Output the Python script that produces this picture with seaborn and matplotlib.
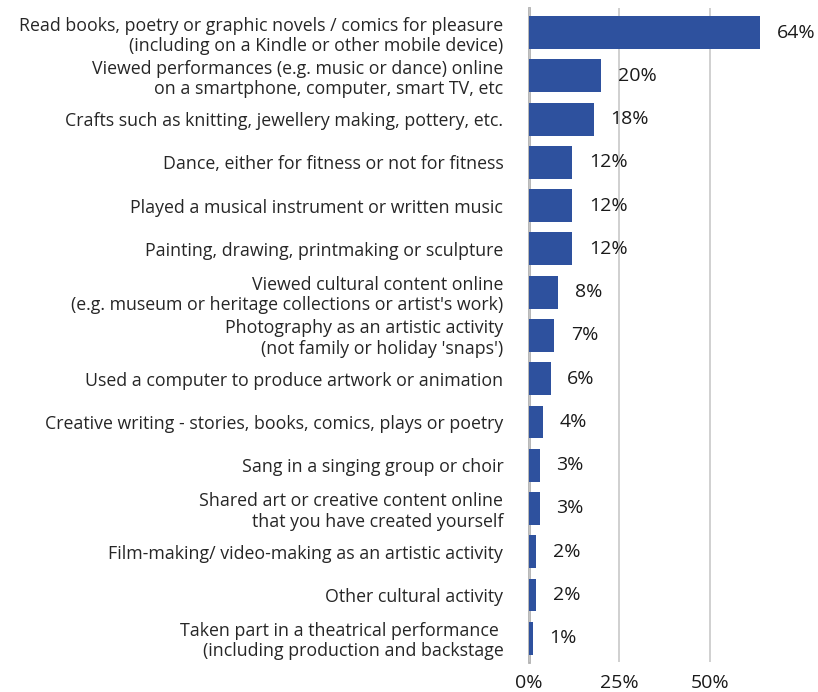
import matplotlib
matplotlib.use("Agg")
import matplotlib.pyplot as plt
import seaborn as sns
import pandas as pd

activities = [
    "Read books, poetry or graphic novels / comics for pleasure\n(including on a Kindle or other mobile device)",
    "Viewed performances (e.g. music or dance) online\non a smartphone, computer, smart TV, etc",
    "Crafts such as knitting, jewellery making, pottery, etc.",
    "Dance, either for fitness or not for fitness",
    "Played a musical instrument or written music",
    "Painting, drawing, printmaking or sculpture",
    "Viewed cultural content online\n(e.g. museum or heritage collections or artist's work)",
    "Photography as an artistic activity\n(not family or holiday 'snaps')",
    "Used a computer to produce artwork or animation",
    "Creative writing - stories, books, comics, plays or poetry",
    "Sang in a singing group or choir",
    "Shared art or creative content online\nthat you have created yourself",
    "Film-making/ video-making as an artistic activity",
    "Other cultural activity",
    "Taken part in a theatrical performance \n(including production and backstage",
]
shares = [64, 20, 18, 12, 12, 12, 8, 7, 6, 4, 3, 3, 2, 2, 1]
x_ticks = [0, 25, 50]
x_tick_labels = ["0%", "25%", "50%"]

df = pd.DataFrame({"activity": activities, "share": shares})

sns.set_theme(style="white")
plt.rcParams["font.family"] = ["Open Sans", "DejaVu Sans"]

fig = plt.figure(figsize=(8.18, 6.92), dpi=100)
ax = fig.add_axes([529 / 818, 1 - 662 / 692, 253 / 818, (662 - 8) / 692])

sns.barplot(data=df, x="share", y="activity", orient="h", color="#2E519E",
            saturation=1, width=0.76, linewidth=0, ax=ax)

ax.set_xlim(0, 70)
ax.set_ylim(14.55, -0.57)
ax.set_xticks(x_ticks)
ax.set_xticklabels(x_tick_labels, fontsize=14, color="#1a1a1a")
ax.tick_params(axis="x", length=0, pad=9)
ax.tick_params(axis="y", length=0, pad=18.5)
for lbl in ax.get_yticklabels():
    lbl.set_fontsize(12.8)
    lbl.set_color("#262626")
    lbl.set_horizontalalignment("right")
    lbl.set_multialignment("right")
    lbl.set_linespacing(1.15)
ax.set_xlabel("")
ax.set_ylabel("")

ax.grid(axis="x", color="#c8c8c8", linewidth=1.2)
ax.set_axisbelow(True)
for side in ["top", "right", "bottom"]:
    ax.spines[side].set_visible(False)
ax.spines["left"].set_color("#b0b0b0")
ax.spines["left"].set_linewidth(2)
ax.spines["left"].set_zorder(0.5)

for i, v in enumerate(shares):
    ax.text(v + 4.6, i, f"{v}%", va="center", ha="left", fontsize=14,
            color="#1a1a1a", clip_on=False)

fig.savefig("out.png", dpi=100)
